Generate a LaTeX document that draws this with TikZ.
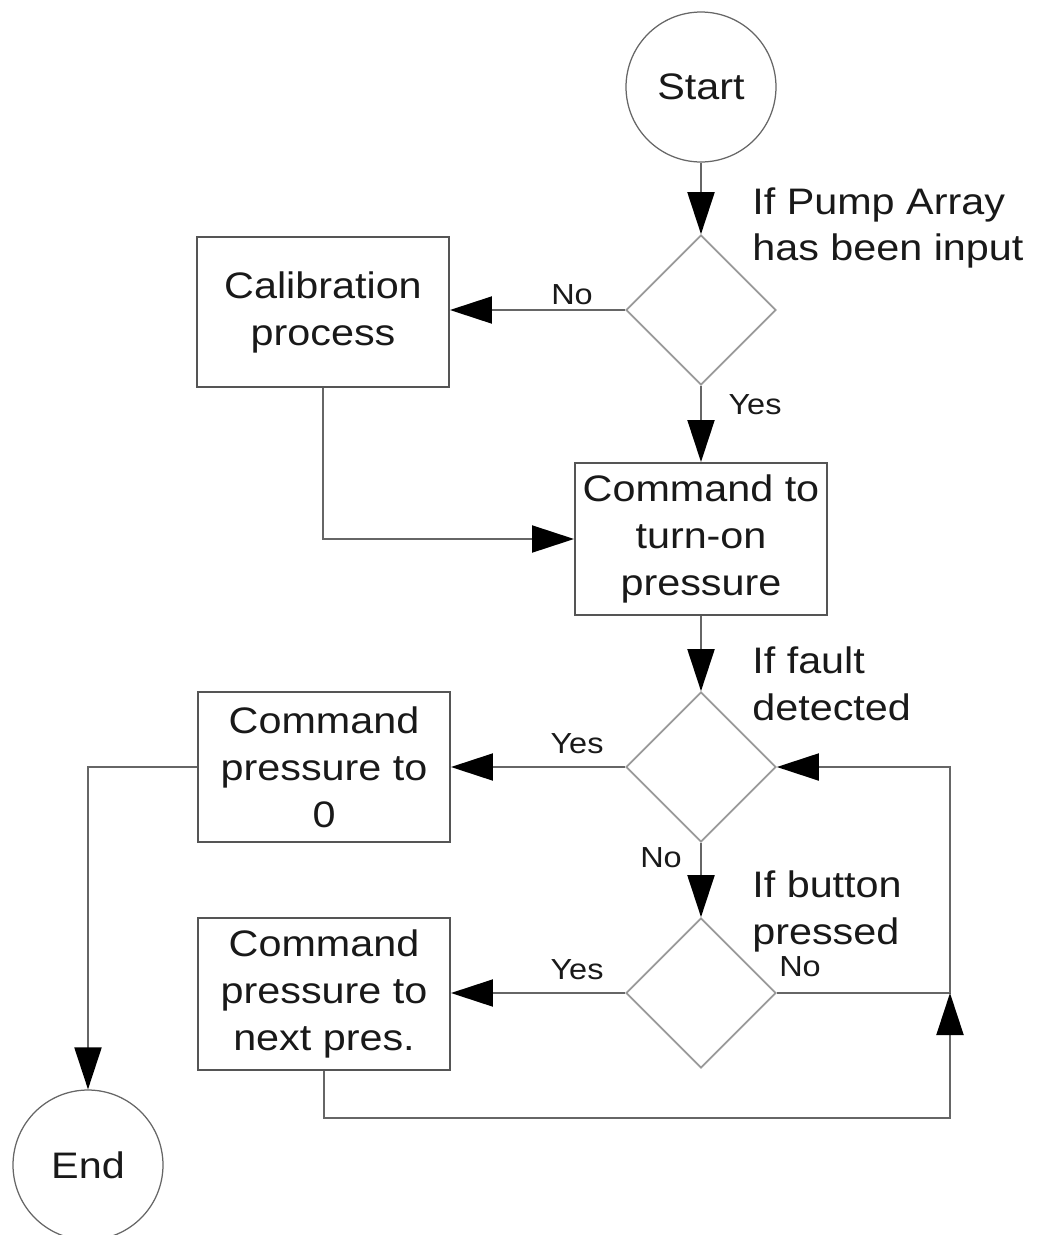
\documentclass[tikz,border=0pt]{standalone}
\usepackage{fontspec}
\setmainfont{Liberation Sans}[FakeStretch=1.12]
\usetikzlibrary{shapes.geometric,arrows.meta}
\definecolor{boxgray}{HTML}{555555}
\definecolor{diagray}{HTML}{999999}
\definecolor{linegray}{HTML}{666666}

\begin{document}
\begin{tikzpicture}[x=0.02cm,y=-0.02cm, inner sep=0pt,
  >={Triangle[length=0.84cm,width=0.54cm,black]},
  txt/.style={font=\fontsize{21}{26.7}\selectfont, text=black!90},
  lbl/.style={font=\fontsize{16.5}{20}\selectfont, text=black!90},
  proc/.style={rectangle, draw=boxgray, line width=0.04cm, minimum width=5.04cm, minimum height=3cm, align=center, txt},
  term/.style={circle, draw=linegray, line width=0.025cm, minimum size=3cm, txt},
  decide/.style={diamond, draw=diagray, line width=0.035cm, minimum width=3cm, minimum height=3cm},
  conn/.style={draw=linegray, line width=0.04cm}]
\useasboundingbox (0,0) rectangle (1036,1235);
\node (start) at (701,87) [term] {Start};
\node (d1) at (701,310) [decide] {};
\node (calib) at (323,312) [proc] {Calibration\\process};
\node (cmd) at (701,539) [proc, minimum height=3.04cm] {Command to\\turn-on\\pressure};
\node (d2) at (701,767) [decide] {};
\node (zero) at (324,767) [proc] {Command\\pressure to\\0};
\node (d3) at (701,993) [decide] {};
\node (next) at (324,994) [proc, minimum height=3.04cm] {Command\\pressure to\\next pres.};
\node (endc) at (88,1165) [term] {End};
\coordinate (loopc) at (950,993);
\coordinate (loopb) at (950,1118);
% conditions and branch labels
\node (q1) at (752,228) [anchor=west, align=left, txt] {If Pump Array\\has been input};
\node (q2) at (752,684) [anchor=west, align=left, txt] {If fault\\detected};
\node (q3) at (752,911) [anchor=west, align=left, txt] {If button\\pressed};
\node (no1) at (572,295) [lbl] {No};
\node (yes1) at (755,405) [lbl] {Yes};
\node (yes2) at (577,744) [lbl] {Yes};
\node (no2) at (661,858) [lbl] {No};
\node (yes3) at (577,970) [lbl] {Yes};
\node (no3) at (800,967) [lbl] {No};
% connectors
\draw[conn, ->] (start.south) -- (d1.north);
\draw[conn, ->] (d1.west) -- (calib.east |- d1.west);
\draw[conn, ->] (d1.south) -- (cmd.north);
\draw[conn, ->] (calib.south) |- (cmd.west);
\draw[conn, ->] (cmd.south) -- (d2.north);
\draw[conn, ->] (d2.west) -- (zero.east);
\draw[conn, ->] (d2.south) -- (d3.north);
\draw[conn, ->] (d3.west) -- (next.east |- d3.west);
\draw[conn, ->] (d3.east) -- (loopc) |- (d2.east);
\draw[conn, ->] (next.south) |- (loopb) -- (loopc);
\draw[conn, ->] (zero.west) -| (endc.north);
\end{tikzpicture}
\end{document}
